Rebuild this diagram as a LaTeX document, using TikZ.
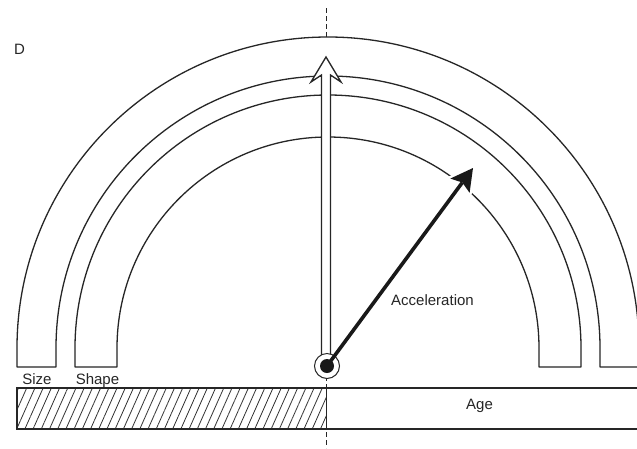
\documentclass[tikz,border=0pt]{standalone}
\usepackage{fontspec}
\setmainfont{Liberation Sans}
\usetikzlibrary{patterns.meta,calc}
\begin{document}
\begin{tikzpicture}[x=1pt,y=-1pt,
  ink/.style={draw=black!85, line width=1.3pt},
  band/.style={ink, fill=white, line join=round},
  lbl/.style={font=\fontsize{15}{17}\selectfont, anchor=base, inner sep=0pt, text=black!85},
  axisline/.style={draw=black!85, line width=1pt, dash pattern=on 5pt off 3pt}]
\useasboundingbox (0,0) rectangle (637,448);
\fill[white] (0,0) rectangle (637,448);
% dashed axis
\coordinate (ax1) at (326,8);
\coordinate (ax2) at (326,448);
\draw[axisline] (ax1) -- (ax2);
% Size band
\draw[band] (17,367) -- (17,348) arc[start angle=180, end angle=360, radius=311] -- (639,367) -- (600,367) -- (600,348) arc[start angle=360, end angle=180, radius=272] -- (56,367) -- cycle;
% Shape band
\draw[band] (75,367) -- (75,348) arc[start angle=180, end angle=360, radius=253] -- (581,367) -- (539,367) -- (539,348) arc[start angle=360, end angle=180, radius=211] -- (117,367) -- cycle;
% bottom bar
\fill[pattern={Lines[angle=66,distance=7.5pt,line width=0.8pt]}, pattern color=black!80] (17,388) rectangle (326,429);
\draw[ink] (640,388) -- (17,388) -- (17,429) -- (640,429);
\draw[axisline] (326,388) -- (326,429);
% vertical open arrow
\draw[ink, fill=white, line join=miter] (321.5,362) -- (321.5,75) -- (311,82) -- (326,57) -- (341,82) -- (330.5,75) -- (330.5,362);
% origin
\node[circle, draw=black!85, line width=1pt, fill=white, minimum size=25pt, inner sep=0pt] (o) at (327,366) {};
\fill[black!90] (o.center) circle[radius=7pt];
% acceleration arrow
\coordinate (tip) at (473,168);
\coordinate (hb) at ($(tip)!22pt!(o.center)$);
\coordinate (hl) at ($(hb)!12pt!90:(tip)$);
\coordinate (hr) at ($(hb)!12pt!-90:(tip)$);
\coordinate (hn) at ($(tip)!18pt!(o.center)$);
\draw[white, line width=5pt, line join=round] (tip) -- (hl) -- (hn) -- (hr) -- cycle;
\draw[black!90, line width=3.6pt] (o.center) -- (hn);
\fill[black!90] (tip) -- (hl) -- (hn) -- (hr) -- cycle;
% labels
\node[lbl] (d) at (19.5,54) {D};
\node[lbl] (size) at (37,384) {Size};
\node[lbl] (shape) at (97.5,384) {Shape};
\node[lbl] (acc) at (432.5,305) {Acceleration};
\node[lbl] (age) at (479.5,409) {Age};
\end{tikzpicture}
\end{document}
